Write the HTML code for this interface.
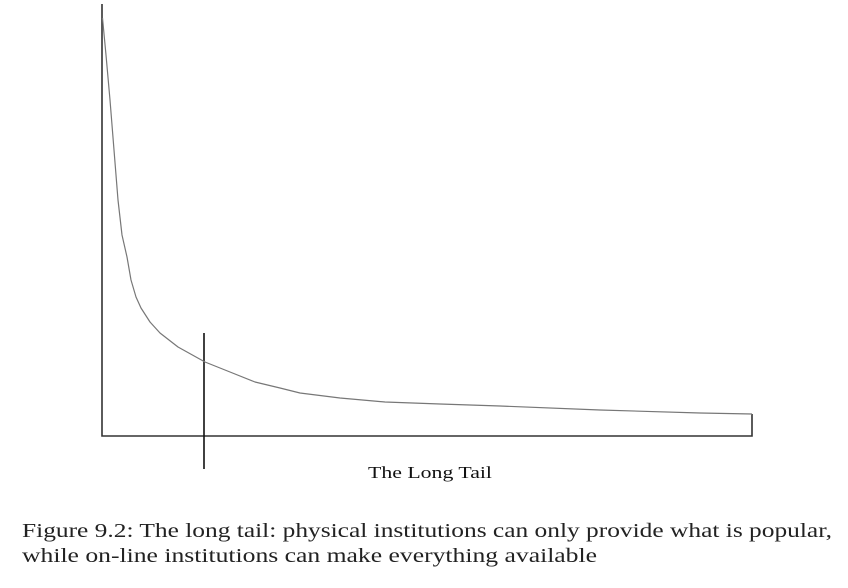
<!DOCTYPE html>
<html><head><style>html,body{margin:0;padding:0;background:#fff;}svg{display:block}</style></head>
<body>
<svg width="848" height="588" viewBox="0 0 848 588" xmlns="http://www.w3.org/2000/svg">
<g fill="none" stroke-linecap="butt">
<path d="M102 4 V436 H752 V414" stroke="#333" stroke-width="1.6"/>
<path d="M204 333 V469" stroke="#111" stroke-width="1.6"/>
<path d="M102.5 18 L106 55 L110 100 L114 150 L118 200 L122 235 L127 257 L131 280 L136 297 L141 308 L150 322 L160 333 L178 347 L205 362 L230 372 L255 382 L280 388 L300 393 L340 398 L385 402 L440 404 L500 406 L600 410 L700 413 L752 414" stroke="#777" stroke-width="1.2" stroke-linejoin="round"/>
</g>
<text x="368" y="478" font-family="Liberation Serif, serif" font-size="17" fill="#111" textLength="124" lengthAdjust="spacingAndGlyphs">The Long Tail</text>
<text x="22" y="537" font-family="Liberation Serif, serif" font-size="20" fill="#222" textLength="810" lengthAdjust="spacingAndGlyphs">Figure 9.2: The long tail: physical institutions can only provide what is popular,</text>
<text x="22" y="562" font-family="Liberation Serif, serif" font-size="20" fill="#222" textLength="575" lengthAdjust="spacingAndGlyphs">while on-line institutions can make everything available</text>
</svg>
</body></html>
